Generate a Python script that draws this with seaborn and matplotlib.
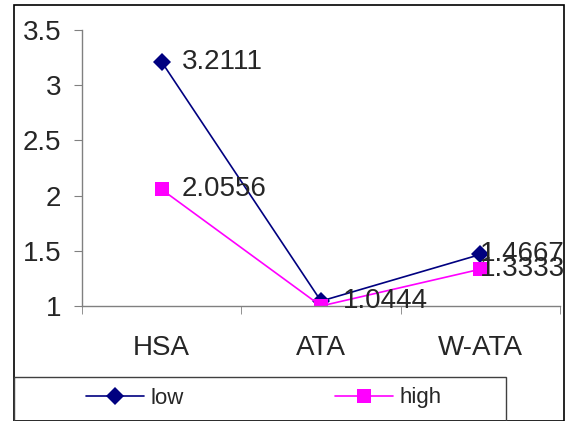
import matplotlib
matplotlib.use("Agg")
import matplotlib.pyplot as plt
from matplotlib.patches import Rectangle
import pandas as pd
import seaborn as sns

categories = ["HSA", "ATA", "W-ATA"]
low_values = [3.2111, 1.0444, 1.4667]
high_values = [2.0556, 1.0, 1.3333]
low_labels = ["3.2111", "1.0444", "1.4667"]
high_labels = ["2.0556", None, "1.3333"]
yticks = [1, 1.5, 2, 2.5, 3, 3.5]
ytick_labels = ["1", "1.5", "2", "2.5", "3", "3.5"]

sns.set_style("white")
plt.rcParams["font.family"] = ["Liberation Sans", "DejaVu Sans"]

df = pd.DataFrame({
    "cat": categories * 2,
    "value": low_values + high_values,
    "series": ["low"] * 3 + ["high"] * 3,
})

fig = plt.figure(figsize=(5.68, 4.21), dpi=100)
ax = fig.add_axes([82 / 568, 1 - 306 / 421, (560 - 82) / 568, (306 - 30) / 421])

sns.lineplot(data=df, x="cat", y="value", hue="series", style="series",
             palette={"low": "#000080", "high": "#FF00FF"},
             markers={"low": "D", "high": "s"}, dashes=False, sort=False,
             markersize=9.5, markeredgewidth=0, linewidth=1.2, ax=ax, legend=True)

ax.set_xlim(-0.5, 2.5)
ax.set_ylim(1, 3.5)
ax.set_yticks(yticks)
ax.set_yticklabels(ytick_labels)
ax.set_xlabel("")
ax.set_ylabel("")
ax.set_xticks([0, 1, 2])
ax.set_xticklabels(categories)
ax.set_xticks([-0.5, 0.5, 1.5, 2.5], minor=True)
ax.tick_params(axis="x", which="major", length=0, pad=21, labelsize=20)
ax.tick_params(axis="x", which="minor", length=6, direction="out", color="#808080", bottom=True)
ax.tick_params(axis="y", length=6, direction="out", color="#808080", pad=9, labelsize=20, left=True)
for s in ["top", "right"]:
    ax.spines[s].set_visible(False)
for s in ["left", "bottom"]:
    ax.spines[s].set_color("#808080")
    ax.spines[s].set_linewidth(1)

# data labels, pushed left at the last category like the original
offsets = [20, 22, 0]
for i, (lab, val) in enumerate(zip(low_labels, low_values)):
    ax.annotate(lab, (i, val), xytext=(offsets[i], 0), textcoords="offset pixels",
                va="center", ha="left", fontsize=20)
for i, (lab, val) in enumerate(zip(high_labels, high_values)):
    if lab is None:
        continue
    ax.annotate(lab, (i, val), xytext=(offsets[i], 0), textcoords="offset pixels",
                va="center", ha="left", fontsize=20)

handles, labels = ax.get_legend_handles_labels()
ax.get_legend().remove()
fig.legend(handles, labels, loc="center", bbox_to_anchor=(264 / 568, 1 - 398 / 421),
           ncol=2, frameon=False, fontsize=16, handlelength=2.6, handletextpad=0.3,
           columnspacing=6.8)

# outer chart frame and legend box
fig.add_artist(Rectangle((14 / 568, 0.001), (564 - 14) / 568, (421 - 5) / 421 - 0.001,
                         transform=fig.transFigure, fill=False, edgecolor="black", lw=1.2))
fig.add_artist(Rectangle((14 / 568, 0.001), (506 - 14) / 568, (421 - 377) / 421,
                         transform=fig.transFigure, fill=False, edgecolor="#404040", lw=1))

fig.savefig("out.png", dpi=100)
